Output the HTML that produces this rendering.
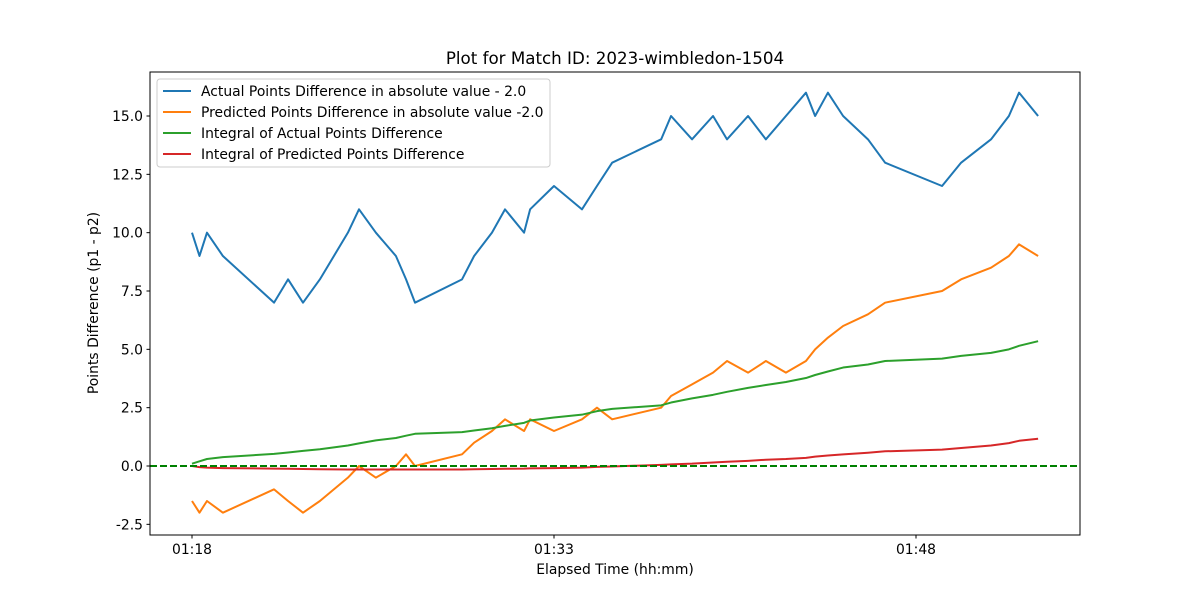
<!DOCTYPE html>
<html><head><meta charset="utf-8"><style>
body{margin:0;background:#fff;}
svg{font-family:"DejaVu Sans","Liberation Sans",sans-serif;}
</style></head><body>
<svg id="chart" width="1200" height="600">
<text x="615" y="64" font-size="16.7" text-anchor="middle">Plot for Match ID: 2023-wimbledon-1504</text>
<g id="plot"></g>
<rect x="150" y="72" width="930" height="463" fill="none" stroke="#000" stroke-width="1"/>
<text x="615" y="574" font-size="13.9" text-anchor="middle">Elapsed Time (hh:mm)</text>
<text transform="translate(98,303) rotate(-90)" font-size="13.9" text-anchor="middle">Points Difference (p1 - p2)</text>
<g id="legend">
<rect x="157" y="79" width="393" height="88" rx="3" fill="#fff" fill-opacity="0.8" stroke="#ccc"/>
</g>
</svg>
<script>
const minutes=[0,0.31,0.62,1.28,3.40,3.98,4.60,5.30,6.46,6.92,7.62,8.45,8.87,9.24,11.19,11.69,12.43,12.97,13.76,14.01,15.0,16.16,16.78,17.41,19.44,19.85,20.72,21.59,22.17,23.04,23.78,24.61,25.44,25.82,26.35,26.98,28.01,28.72,31.08,31.87,33.11,33.85,34.27,35.06];
const actual=[10,9,10,9,7,8,7,8,10,11,10,9,8,7,8,9,10,11,10,11,12,11,12,13,14,15,14,15,14,15,14,15,16,15,16,15,14,13,12,13,14,15,16,15];
const predicted=[-1.5,-2,-1.5,-2,-1,-1.5,-2,-1.5,-0.5,0,-0.5,0,0.5,0,0.5,1,1.5,2,1.5,2,1.5,2,2.5,2,2.5,3,3.5,4,4.5,4,4.5,4,4.5,5,5.5,6,6.5,7,7.5,8,8.5,9,9.5,9];
const intActual=[0.1,0.2,0.3,0.38,0.52,0.58,0.65,0.72,0.88,0.97,1.1,1.2,1.3,1.38,1.45,1.52,1.62,1.72,1.85,1.95,2.08,2.2,2.35,2.45,2.6,2.72,2.9,3.05,3.18,3.35,3.47,3.6,3.77,3.9,4.05,4.22,4.35,4.5,4.6,4.72,4.85,5.0,5.15,5.35];
const intPred=[0,-0.05,-0.07,-0.09,-0.11,-0.12,-0.13,-0.14,-0.15,-0.15,-0.15,-0.15,-0.15,-0.15,-0.15,-0.14,-0.13,-0.12,-0.11,-0.1,-0.09,-0.07,-0.04,-0.02,0.05,0.07,0.1,0.15,0.18,0.22,0.27,0.3,0.35,0.4,0.45,0.5,0.57,0.63,0.7,0.77,0.88,0.98,1.08,1.17];
const yTicks=[-2.5,0,2.5,5,7.5,10,12.5,15];
const xTickMinutes=[0,15,30];
const xTickLabels=["01:18","01:33","01:48"];
const seriesNames=["Actual Points Difference in absolute value - 2.0","Predicted Points Difference in absolute value -2.0","Integral of Actual Points Difference","Integral of Predicted Points Difference"];
const colors=["#1f77b4","#ff7f0e","#2ca02c","#d62728"];
const NS="http://www.w3.org/2000/svg";
const X=m=>192+m*24.133;
const Y=v=>466-v*23.333;
const plot=document.getElementById('plot');
function mk(tag,attrs,parent){const e=document.createElementNS(NS,tag);for(const k in attrs)e.setAttribute(k,attrs[k]);parent.appendChild(e);return e;}
yTicks.forEach(t=>{
  const g=mk('g',{},plot);
  
  
  mk('line',{x1:146.5,x2:150,y1:Y(t),y2:Y(t),stroke:'#000'},g);
  const tx=mk('text',{x:143,y:Y(t)+5,'font-size':13.9,'text-anchor':'end'},g);
  tx.textContent=t.toFixed(1);
});
xTickMinutes.forEach((m,i)=>{
  const g=mk('g',{},plot);
  
  
  mk('line',{x1:X(m),x2:X(m),y1:535,y2:538.5,stroke:'#000'},g);
  const tx=mk('text',{x:X(m),y:554,'font-size':13.9,'text-anchor':'middle'},g);
  tx.textContent=xTickLabels[i];
});
[actual,predicted,intActual,intPred].forEach((s,i)=>{
  const p=mk('polyline',{points:s.map((v,j)=>X(minutes[j])+','+Y(v)).join(' '),fill:'none',stroke:colors[i],'stroke-width':2,'stroke-linejoin':'round'},plot);
  
  
});
const zl=mk('line',{x1:150,x2:1080,y1:Y(0),y2:Y(0),stroke:'#008000','stroke-width':2,'stroke-dasharray':'7,3'},plot);


const lg=document.getElementById('legend');
seriesNames.forEach((n,i)=>{
  const y=91+i*21;
  const g=mk('g',{},lg);
  
  
  mk('line',{x1:163,x2:191,y1:y,y2:y,stroke:colors[i],'stroke-width':2},g);
  const t=mk('text',{x:201,y:y+5,'font-size':13.9},g);
  t.textContent=n;
});
</script>
</body></html>
